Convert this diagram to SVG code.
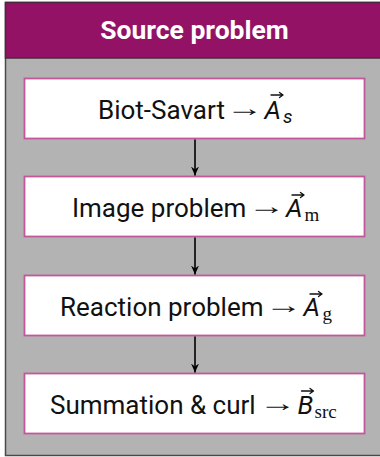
<svg xmlns="http://www.w3.org/2000/svg" width="380" height="457" viewBox="0 0 380 457">
  <style>
    .frame { fill: #b3b3b3; stroke: #4a4a4a; stroke-width: 1.5; }
    .header { fill: #941266; stroke: #4a2a3a; stroke-width: 1.5; }
    .title { font-family: Roboto, "Liberation Sans", sans-serif; font-weight: bold; font-size: 26.5px; fill: #ffffff; }
    .box { fill: #ffffff; stroke: #c2579c; stroke-width: 1.8; }
    .label { font-family: Roboto, "Liberation Sans", sans-serif; font-size: 26px; fill: #111111; }
    .op { font-family: "Liberation Serif", "DejaVu Serif", serif; font-size: 24px; fill: #111111; }
    .vec { font-family: Roboto, "Liberation Sans", sans-serif; font-style: italic; font-size: 26px; fill: #111111; }
    .sub { font-family: "Liberation Serif", serif; font-size: 19px; fill: #111111; }
    .subi { font-family: Roboto, "Liberation Sans", sans-serif; font-style: italic; font-size: 19px; fill: #111111; }
    .hat { stroke: #111111; stroke-width: 1.3; fill: none; stroke-linecap: round; stroke-linejoin: round; }
    .conn { stroke: #000000; stroke-width: 1.6; fill: none; }
  </style>
  <defs>
    <marker id="head" markerWidth="10" markerHeight="10" refX="9" refY="5" orient="auto" markerUnits="userSpaceOnUse">
      <path d="M0,1 L9,5 L0,9 L3,5 Z" fill="#000000"/>
    </marker>
  </defs>

  <g id="source-problem">
    <rect class="frame" x="5.5" y="2.5" width="382" height="453"/>
    <rect class="header" x="5.5" y="2.5" width="382" height="55.5"/>
    <text class="title" x="194.5" y="39" text-anchor="middle">Source problem</text>
  </g>

  <g id="biot-savart">
    <rect class="box" x="24.5" y="78.5" width="340" height="60"/>
    <text class="label" x="98" y="119">Biot-Savart</text>
    <text class="op" transform="translate(226,116) scale(1.55,1)">→</text>
    <text class="vec" x="264.5" y="119">A</text>
    <text class="subi" x="283" y="123">s</text>
    <path class="hat" d="M271,95 H283 M279.5,92.5 L283,95 L279.5,97.5"/>
  </g>

  <g id="image-problem">
    <rect class="box" x="24.5" y="176.5" width="340" height="60"/>
    <text class="label" x="72" y="217">Image problem</text>
    <text class="op" transform="translate(248,214) scale(1.55,1)">→</text>
    <text class="vec" x="286" y="217">A</text>
    <text class="sub" x="304.5" y="221">m</text>
    <path class="hat" d="M292,195 H304 M300.5,192.5 L304,195 L300.5,197.5"/>
  </g>

  <g id="reaction-problem">
    <rect class="box" x="24.5" y="275.5" width="340" height="60"/>
    <text class="label" x="60" y="316">Reaction problem</text>
    <text class="op" transform="translate(265,313) scale(1.55,1)">→</text>
    <text class="vec" x="303.5" y="316">A</text>
    <text class="sub" x="322.5" y="320">g</text>
    <path class="hat" d="M310,294 H322 M318.5,291.5 L322,294 L318.5,296.5"/>
  </g>

  <g id="summation-curl">
    <rect class="box" x="24.5" y="373.5" width="340" height="60"/>
    <text class="label" x="50" y="414">Summation &amp; curl</text>
    <text class="op" transform="translate(259,411) scale(1.55,1)">→</text>
    <text class="vec" x="297.5" y="414">B</text>
    <text class="sub" x="314.5" y="418">src</text>
    <path class="hat" d="M301.5,391 H313.5 M310,388.5 L313.5,391 L310,393.5"/>
  </g>

  <g id="connectors">
    <line class="conn" x1="195" y1="139.5" x2="195" y2="175.5" marker-end="url(#head)"/>
    <line class="conn" x1="195" y1="237.5" x2="195" y2="274.5" marker-end="url(#head)"/>
    <line class="conn" x1="195" y1="336.5" x2="195" y2="372.5" marker-end="url(#head)"/>
  </g>
</svg>
